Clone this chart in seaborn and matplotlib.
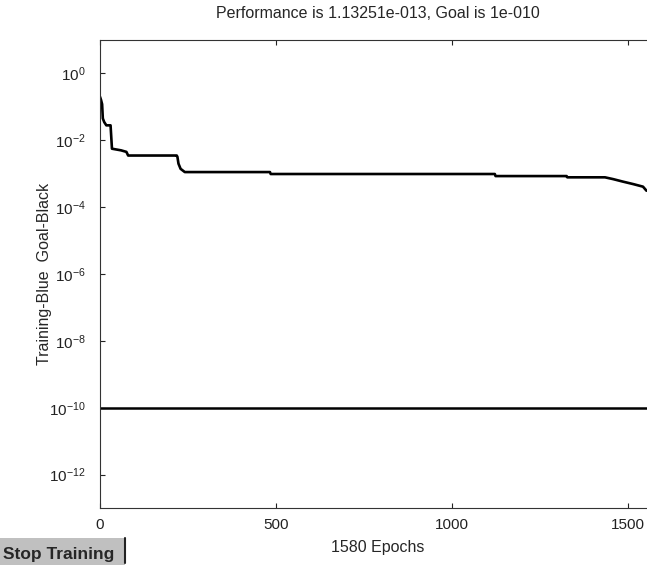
import numpy as np
import pandas as pd
import matplotlib
matplotlib.use("Agg")
import matplotlib.pyplot as plt
import seaborn as sns
from matplotlib.patches import Rectangle
from matplotlib.lines import Line2D

# Training performance (epoch, mse)
epochs = [0, 3, 6, 8, 12, 18, 30, 34, 60, 75, 80, 150, 218, 220, 223, 229, 241,
          250, 483, 485, 1122, 1124, 1326, 1328, 1435, 1458, 1486, 1515, 1543, 1553]
perf = [0.20, 0.16, 0.12, 0.045, 0.035, 0.028, 0.028, 0.0056, 0.005, 0.0045,
        0.0035, 0.0035, 0.0035, 0.0032, 0.002, 0.0014, 0.00112,
        0.00112, 0.00112, 0.00098, 0.00098, 0.00085, 0.00085, 0.00078, 0.00078,
        0.00069, 0.00058, 0.00049, 0.00041, 0.00031]
goal = 1e-10
goal_epochs = [0, 1580]
total_epochs = 1580
final_perf = "1.13251e-013"
goal_str = "1e-010"

train = pd.DataFrame({"epoch": epochs, "perf": perf})
goal_df = pd.DataFrame({"epoch": goal_epochs, "perf": [goal, goal]})

sns.set_style("white")
plt.rcParams["font.family"] = ["Liberation Sans", "DejaVu Sans"]
plt.rcParams["mathtext.fontset"] = "custom"
plt.rcParams["mathtext.rm"] = "Liberation Sans"
plt.rcParams["mathtext.it"] = "Liberation Sans:italic"
plt.rcParams["mathtext.bf"] = "Liberation Sans:bold"
plt.rcParams["axes.unicode_minus"] = False

fig = plt.figure(figsize=(6.47, 5.65), dpi=100)
ax = fig.add_axes([100 / 647, 1 - 508 / 565, 556 / 647, 468 / 565])

sns.lineplot(data=train, x="epoch", y="perf", ax=ax, color="black", lw=1.9,
             sort=False, estimator=None)
sns.lineplot(data=goal_df, x="epoch", y="perf", ax=ax, color="black", lw=1.8,
             sort=False, estimator=None)

ax.set_yscale("log")
ax.set_xlim(0, total_epochs)
ax.set_ylim(1e-13, 1e1)
ax.set_xticks([0, 500, 1000, 1500])
ax.set_yticks([10.0 ** k for k in range(0, -13, -2)])
ax.yaxis.set_minor_locator(matplotlib.ticker.NullLocator())
ax.yaxis.set_major_formatter(
    matplotlib.ticker.FuncFormatter(lambda v, p: r"$10^{%d}$" % round(np.log10(v))))

ax.tick_params(axis="both", direction="in", length=3.8, width=0.8,
               bottom=True, left=True, top=True, right=True,
               labelsize=11, colors="#222222")
ax.tick_params(axis="x", pad=7)
ax.tick_params(axis="y", pad=10.5)
for s in ax.spines.values():
    s.set_color("#333333")
    s.set_linewidth(0.8)

ax.set_title(f"Performance is {final_perf}, Goal is {goal_str}", fontsize=11.5, pad=16)
ax.set_xlabel(f"{total_epochs} Epochs", fontsize=11.5, va="top")
ax.xaxis.set_label_coords(0.5, -0.068)
ax.set_ylabel("Training-Blue  Goal-Black", fontsize=11.5)
ax.yaxis.set_label_coords(-0.086, 0.5)

# "Stop Training" button in the lower left corner
bx0, by0, bw, bh = 0 / 647, 0 / 565, 125 / 647, 27 / 565
fig.patches.append(Rectangle((bx0, by0), bw, bh, transform=fig.transFigure,
                             facecolor="#c0c0c0", edgecolor="none"))
fig.lines.append(Line2D([bx0 + bw, bx0 + bw], [by0 + 2 / 565, by0 + bh],
                        transform=fig.transFigure, color="#222222", lw=1.5))
fig.text(3 / 647, 6 / 565, "Stop Training", fontsize=12.5, fontweight="bold",
         ha="left", va="baseline")

fig.savefig("out.png", dpi=100)
